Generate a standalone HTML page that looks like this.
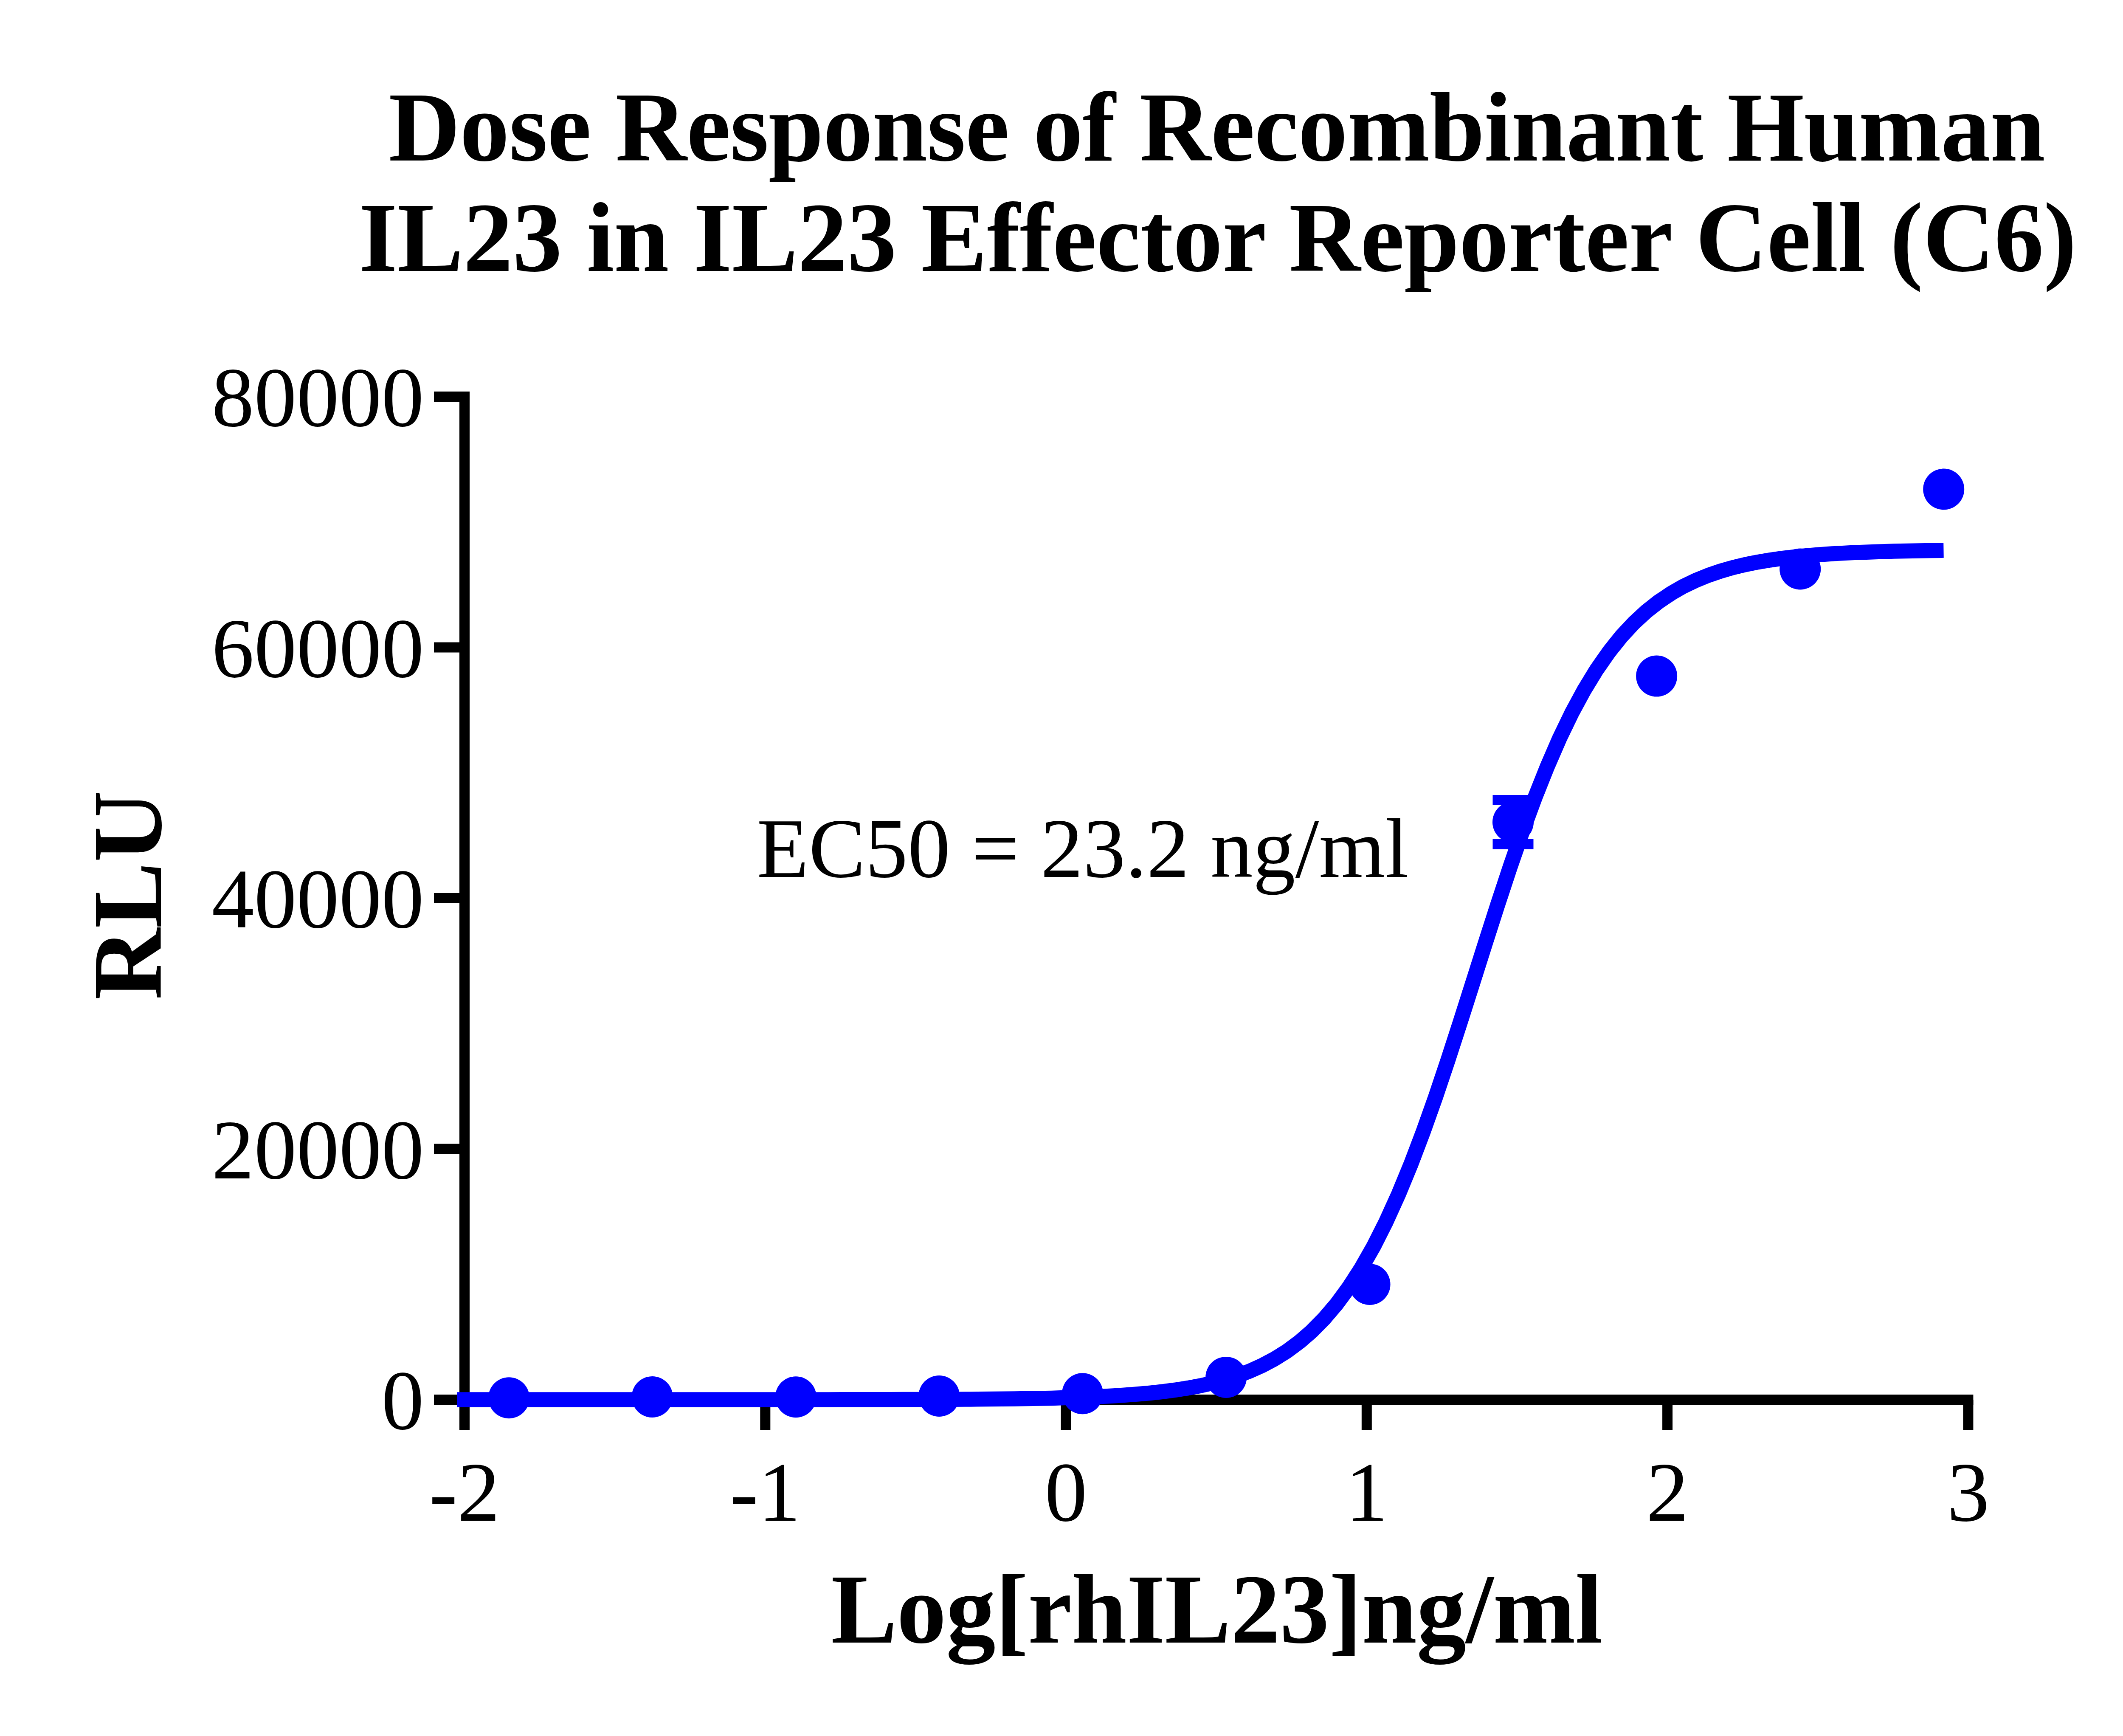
<!DOCTYPE html>
<html><head><meta charset="utf-8"><style>
html,body{margin:0;padding:0;background:#fff;}
body{width:5206px;height:4088px;overflow:hidden;font-family:"Liberation Serif",serif;}
svg{display:block;}
</style></head><body>
<svg width="5206" height="4088" viewBox="0 0 5206 4088">
<rect width="5206" height="4088" fill="#fff"/>
<g font-family="Liberation Serif, serif" font-weight="bold" font-size="233.3" text-anchor="middle" fill="#000">
<text x="2866" y="378.4" textLength="3901.3" lengthAdjust="spacing">Dose Response of Recombinant Human</text>
<text x="2868" y="638" textLength="4045.4" lengthAdjust="spacing">IL23 in IL23 Effector Reporter Cell (C6)</text>
<text x="2866" y="3868" textLength="1817.7" lengthAdjust="spacing">Log[rhIL23]ng/ml</text>
<text transform="translate(379,2108) rotate(-90)" x="0" y="0">RLU</text>
</g>
<g fill="#000">
<rect x="1082" y="922" width="24" height="2445"/>
<rect x="1022" y="3284" width="3625.4" height="24"/>
<rect x="1022" y="2693.5" width="60" height="24"/>
<rect x="1022" y="2103.0" width="60" height="24"/>
<rect x="1022" y="1512.5" width="60" height="24"/>
<rect x="1022" y="922.0" width="60" height="24"/>
<rect x="1790.3" y="3296" width="24" height="71"/>
<rect x="2498.6" y="3296" width="24" height="71"/>
<rect x="3206.8" y="3296" width="24" height="71"/>
<rect x="3915.1" y="3296" width="24" height="71"/>
<rect x="4623.4" y="3296" width="24" height="71"/>
</g>
<g font-family="Liberation Serif, serif" font-size="200" fill="#000">
<text x="998.6" y="3365.0" text-anchor="end">0</text>
<text x="998.6" y="2774.5" text-anchor="end">20000</text>
<text x="998.6" y="2184.0" text-anchor="end">40000</text>
<text x="998.6" y="1593.5" text-anchor="end">60000</text>
<text x="998.6" y="1003.0" text-anchor="end">80000</text>
<text x="1094.0" y="3581" text-anchor="middle">-2</text>
<text x="1802.3" y="3581" text-anchor="middle">-1</text>
<text x="2510.6" y="3581" text-anchor="middle">0</text>
<text x="3218.8" y="3581" text-anchor="middle">1</text>
<text x="3927.1" y="3581" text-anchor="middle">2</text>
<text x="4635.4" y="3581" text-anchor="middle">3</text>
<text x="1782.5" y="2064.8">EC50 = 23.2 ng/ml</text>
</g>
<polyline points="1076.0,3296.0 1105.2,3296.0 1134.4,3296.0 1163.5,3296.0 1192.7,3296.0 1221.9,3296.0 1251.1,3296.0 1280.3,3296.0 1309.4,3296.0 1338.6,3296.0 1367.8,3296.0 1397.0,3296.0 1426.2,3296.0 1455.3,3296.0 1484.5,3296.0 1513.7,3296.0 1542.9,3296.0 1572.0,3296.0 1601.2,3296.0 1630.4,3296.0 1659.6,3296.0 1688.8,3296.0 1717.9,3296.0 1747.1,3296.0 1776.3,3296.0 1805.5,3295.9 1834.7,3295.9 1863.8,3295.9 1893.0,3295.9 1922.2,3295.9 1951.4,3295.9 1980.6,3295.8 2009.7,3295.8 2038.9,3295.8 2068.1,3295.7 2097.3,3295.7 2126.4,3295.6 2155.6,3295.5 2184.8,3295.4 2214.0,3295.3 2243.2,3295.2 2272.3,3295.0 2301.5,3294.8 2330.7,3294.6 2359.9,3294.3 2389.1,3293.9 2418.2,3293.5 2447.4,3293.0 2476.6,3292.4 2505.8,3291.6 2535.0,3290.7 2564.1,3289.7 2593.3,3288.4 2622.5,3286.9 2651.7,3285.0 2680.9,3282.8 2710.0,3280.2 2739.2,3277.0 2768.4,3273.2 2797.6,3268.6 2826.8,3263.2 2855.9,3256.7 2885.1,3248.9 2914.3,3239.6 2943.5,3228.6 2972.6,3215.5 3001.8,3200.0 3031.0,3181.7 3060.2,3160.1 3089.4,3134.8 3118.5,3105.2 3147.7,3071.0 3176.9,3031.4 3206.1,2986.1 3235.3,2934.7 3264.4,2876.9 3293.6,2812.5 3322.8,2741.7 3352.0,2664.8 3381.2,2582.6 3410.3,2495.8 3439.5,2405.8 3468.7,2314.0 3497.9,2221.9 3527.1,2130.9 3556.2,2042.7 3585.4,1958.5 3614.6,1879.3 3643.8,1806.0 3672.9,1738.9 3702.1,1678.4 3731.3,1624.4 3760.5,1576.6 3789.7,1534.8 3818.8,1498.4 3848.0,1467.0 3877.2,1440.0 3906.4,1417.0 3935.6,1397.4 3964.7,1380.7 3993.9,1366.7 4023.1,1354.9 4052.3,1344.9 4081.5,1336.5 4110.6,1329.5 4139.8,1323.7 4169.0,1318.8 4198.2,1314.7 4227.4,1311.3 4256.5,1308.4 4285.7,1306.0 4314.9,1304.0 4344.1,1302.4 4373.2,1301.0 4402.4,1299.9 4431.6,1298.9 4460.8,1298.1 4490.0,1297.5 4519.1,1296.9 4548.3,1296.5 4577.5,1296.1" fill="none" stroke="#0000ff" stroke-width="35.5" stroke-linejoin="round"/>
<g fill="#0000ff"><rect x="3515.5" y="1872" width="96" height="24"/><rect x="3515.5" y="1976" width="96" height="24"/><rect x="3551.5" y="1872" width="24" height="128"/></g>
<g fill="#0000ff">
<circle cx="1198.6" cy="3291.7" r="48.5"/>
<circle cx="1536.2" cy="3289.5" r="48.5"/>
<circle cx="1874.3" cy="3289.7" r="48.5"/>
<circle cx="2211.8" cy="3287.5" r="48.5"/>
<circle cx="2549.6" cy="3281.7" r="48.5"/>
<circle cx="2887.7" cy="3243.4" r="48.5"/>
<circle cx="3226.0" cy="3024.4" r="48.5"/>
<circle cx="3563.5" cy="1936.0" r="48.5"/>
<circle cx="3901.6" cy="1592.1" r="48.5"/>
<circle cx="4239.7" cy="1340.0" r="48.5"/>
<circle cx="4577.7" cy="1152.0" r="48.5"/>
</g>
</svg>
</body></html>
